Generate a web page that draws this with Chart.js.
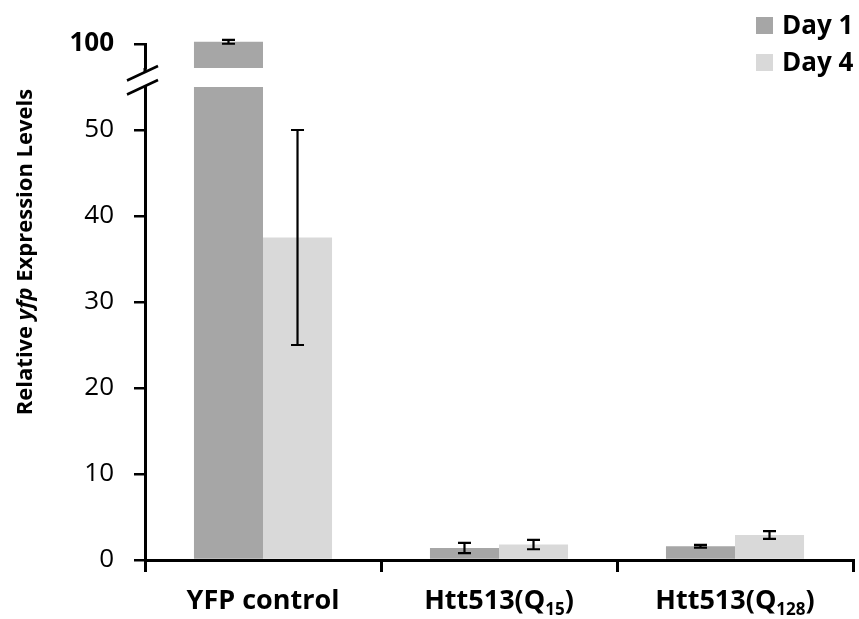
<!DOCTYPE html>
<html><head><meta charset="utf-8">
<script src="https://cdn.jsdelivr.net/npm/chart.js@4.4.1/dist/chart.umd.min.js"></script>
<style>
html,body{margin:0;padding:0;background:#fff;}
#wrap{position:relative;width:859px;height:619px;overflow:hidden;}
canvas{position:absolute;left:0;top:0;}
</style></head><body>
<div id="wrap"><canvas id="low" width="859" height="619"></canvas><canvas id="upper" width="859" height="619"></canvas></div>
<script>
// ---- data ----
const categories = ['YFP control', 'Htt513(Q{15})', 'Htt513(Q{128})'];
const seriesNames = ['Day 1', 'Day 4'];
const day1 = [100.25, 1.4, 1.6];
const day1Err = [0.22, 0.6, 0.15];
const day4 = [37.5, 1.8, 2.9];
const day4Err = [12.5, 0.55, 0.45];
const lowerTicks = [0, 10, 20, 30, 40, 50];
const upperTicks = [100];
const lowerRange = [0, 55];
const upperRange = [97.2, 100];
const yTitleParts = [['Relative ', false], ['yfp', true], [' Expression Levels', false]];

// ---- style ----
const colors = ['#a6a6a6', '#d9d9d9'];
const FONT = "'Open Sans', 'DejaVu Sans', sans-serif";
Chart.defaults.color = '#000';
Chart.defaults.font.family = FONT;

function makeDatasets() {
  return [
    { label: seriesNames[0], data: day1, errors: day1Err, backgroundColor: colors[0], borderWidth: 0,
      categoryPercentage: 0.585, barPercentage: 1.0 },
    { label: seriesNames[1], data: day4, errors: day4Err, backgroundColor: colors[1], borderWidth: 0,
      categoryPercentage: 0.585, barPercentage: 1.0 }
  ];
}

function drawErrors(chart, extraTop) {
  const ctx = chart.ctx, a = chart.chartArea, ys = chart.scales.y;
  ctx.save();
  ctx.beginPath();
  ctx.rect(a.left, a.top - extraTop, a.right - a.left, a.bottom - a.top + extraTop);
  ctx.clip();
  ctx.strokeStyle = '#000';
  ctx.lineWidth = 2.2;
  chart.data.datasets.forEach((ds, di) => {
    const meta = chart.getDatasetMeta(di);
    meta.data.forEach((bar, i) => {
      const v = ds.data[i], e = ds.errors[i];
      const x = bar.x;
      const y1 = ys.getPixelForValue(v + e), y2 = ys.getPixelForValue(v - e);
      ctx.beginPath();
      ctx.moveTo(x, y1); ctx.lineTo(x, y2);
      ctx.moveTo(x - 6.5, y1); ctx.lineTo(x + 6.5, y1);
      ctx.moveTo(x - 6.5, y2); ctx.lineTo(x + 6.5, y2);
      ctx.stroke();
    });
  });
  ctx.restore();
}

function parseLabel(s) {
  const parts = [];
  const re = /([^{]+)|\{([^}]*)\}/g;
  let m;
  while ((m = re.exec(s))) {
    if (m[1] !== undefined) parts.push([m[1], false]);
    else parts.push([m[2], true]);
  }
  return parts;
}

const lowerPlugin = {
  id: 'lowerDeco',
  afterDatasetsDraw(chart) { drawErrors(chart, 0); },
  afterDraw(chart) {
    const ctx = chart.ctx, a = chart.chartArea, xs = chart.scales.x;
    // x labels with subscripts
    const mainF = "bold 27px " + FONT, subF = "bold 17px " + FONT;
    ctx.save();
    ctx.fillStyle = '#000';
    ctx.textBaseline = 'alphabetic';
    ctx.textAlign = 'left';
    categories.forEach((lab, i) => {
      const parts = parseLabel(lab);
      let total = 0;
      parts.forEach(p => { ctx.font = p[1] ? subF : mainF; total += ctx.measureText(p[0]).width; });
      let x = xs.getPixelForValue(i) - total / 2;
      const base = a.bottom + 49;
      parts.forEach(p => {
        ctx.font = p[1] ? subF : mainF;
        ctx.fillText(p[0], x, p[1] ? base + 6 : base);
        x += ctx.measureText(p[0]).width;
      });
    });
    ctx.restore();

    // y title
    ctx.save();
    ctx.translate(26, 252);
    ctx.rotate(-Math.PI / 2);
    ctx.fillStyle = '#000';
    ctx.textBaseline = 'middle';
    let tw = 0;
    yTitleParts.forEach(p => { ctx.font = (p[1] ? 'italic ' : '') + 'bold 22px ' + FONT; tw += ctx.measureText(p[0]).width; });
    let tx = -tw / 2;
    yTitleParts.forEach(p => {
      ctx.font = (p[1] ? 'italic ' : '') + 'bold 22px ' + FONT;
      ctx.fillText(p[0], tx, 0);
      tx += ctx.measureText(p[0]).width;
    });
    ctx.restore();

    // axis break
    const up = Chart.getChart('upper');
    const topBottom = up ? up.chartArea.bottom : a.top - 19;
    ctx.save();
    ctx.strokeStyle = '#000';
    ctx.lineWidth = 3;
    ctx.beginPath();
    ctx.moveTo(a.left, topBottom);
    ctx.lineTo(a.left, topBottom + 4);
    ctx.stroke();
    ctx.lineWidth = 2.5;
    const c1 = topBottom + 5, c2 = a.top;
    [c1, c2].forEach(cy => {
      ctx.beginPath();
      ctx.moveTo(a.left - 18, cy + 7.5);
      ctx.lineTo(a.left + 13, cy - 7);
      ctx.stroke();
    });
    ctx.restore();
  }
};

const upperPlugin = {
  id: 'upperDeco',
  afterDatasetsDraw(chart) { drawErrors(chart, 12); },
  afterDraw(chart) {
    const ctx = chart.ctx;
    ctx.save();
    ctx.font = 'bold 26px ' + FONT;
    ctx.textBaseline = 'middle';
    ctx.textAlign = 'left';
    chart.data.datasets.forEach((ds, i) => {
      const y = 25.5 + i * 37;
      ctx.fillStyle = ds.backgroundColor;
      ctx.fillRect(756, y - 8.5, 17, 17);
      ctx.fillStyle = '#000';
      ctx.fillText(ds.label, 782, y + 1);
    });
    ctx.restore();
  }
};

function yScale(range, ticks, bold, showBorder) {
  return {
    type: 'linear',
    min: range[0], max: range[1],
    afterBuildTicks: s => { s.ticks = ticks.map(v => ({ value: v })); },
    afterFit: s => { s.width = 145; },
    ticks: { padding: 20, color: '#000', font: { size: 26, weight: bold ? 'bold' : 'normal', family: FONT } },
    grid: { drawOnChartArea: false, drawTicks: true, tickLength: 11, color: '#000', lineWidth: 2.5 },
    border: { display: showBorder, color: '#000', width: 3 }
  };
}

new Chart(document.getElementById('low'), {
  type: 'bar',
  data: { labels: categories, datasets: makeDatasets() },
  options: {
    responsive: false, animation: false, devicePixelRatio: 1,
    layout: { padding: { top: 87, right: 6, left: 0, bottom: 0 } },
    plugins: { legend: { display: false }, tooltip: { enabled: false } },
    scales: {
      x: {
        afterFit: s => { s.height = 59; },
        ticks: { display: false },
        grid: { offset: true, drawOnChartArea: false, drawTicks: true, tickLength: 12, color: '#000', lineWidth: 3 },
        border: { display: true, color: '#000', width: 3 }
      },
      y: yScale(lowerRange, lowerTicks, false, true)
    }
  },
  plugins: [lowerPlugin]
});

new Chart(document.getElementById('upper'), {
  type: 'bar',
  data: { labels: categories, datasets: makeDatasets() },
  options: {
    responsive: false, animation: false, devicePixelRatio: 1,
    layout: { padding: { top: 44, right: 6, left: 0, bottom: 551 } },
    plugins: { legend: { display: false }, tooltip: { enabled: false } },
    datasets: { bar: { clip: { left: 0, top: 12, right: 0, bottom: 0 } } },
    scales: {
      x: { display: false },
      y: yScale(upperRange, upperTicks, true, true)
    }
  },
  plugins: [upperPlugin]
});
// redraw lower so break uses upper chart area
Chart.getChart('low').draw();
</script>
</body></html>
